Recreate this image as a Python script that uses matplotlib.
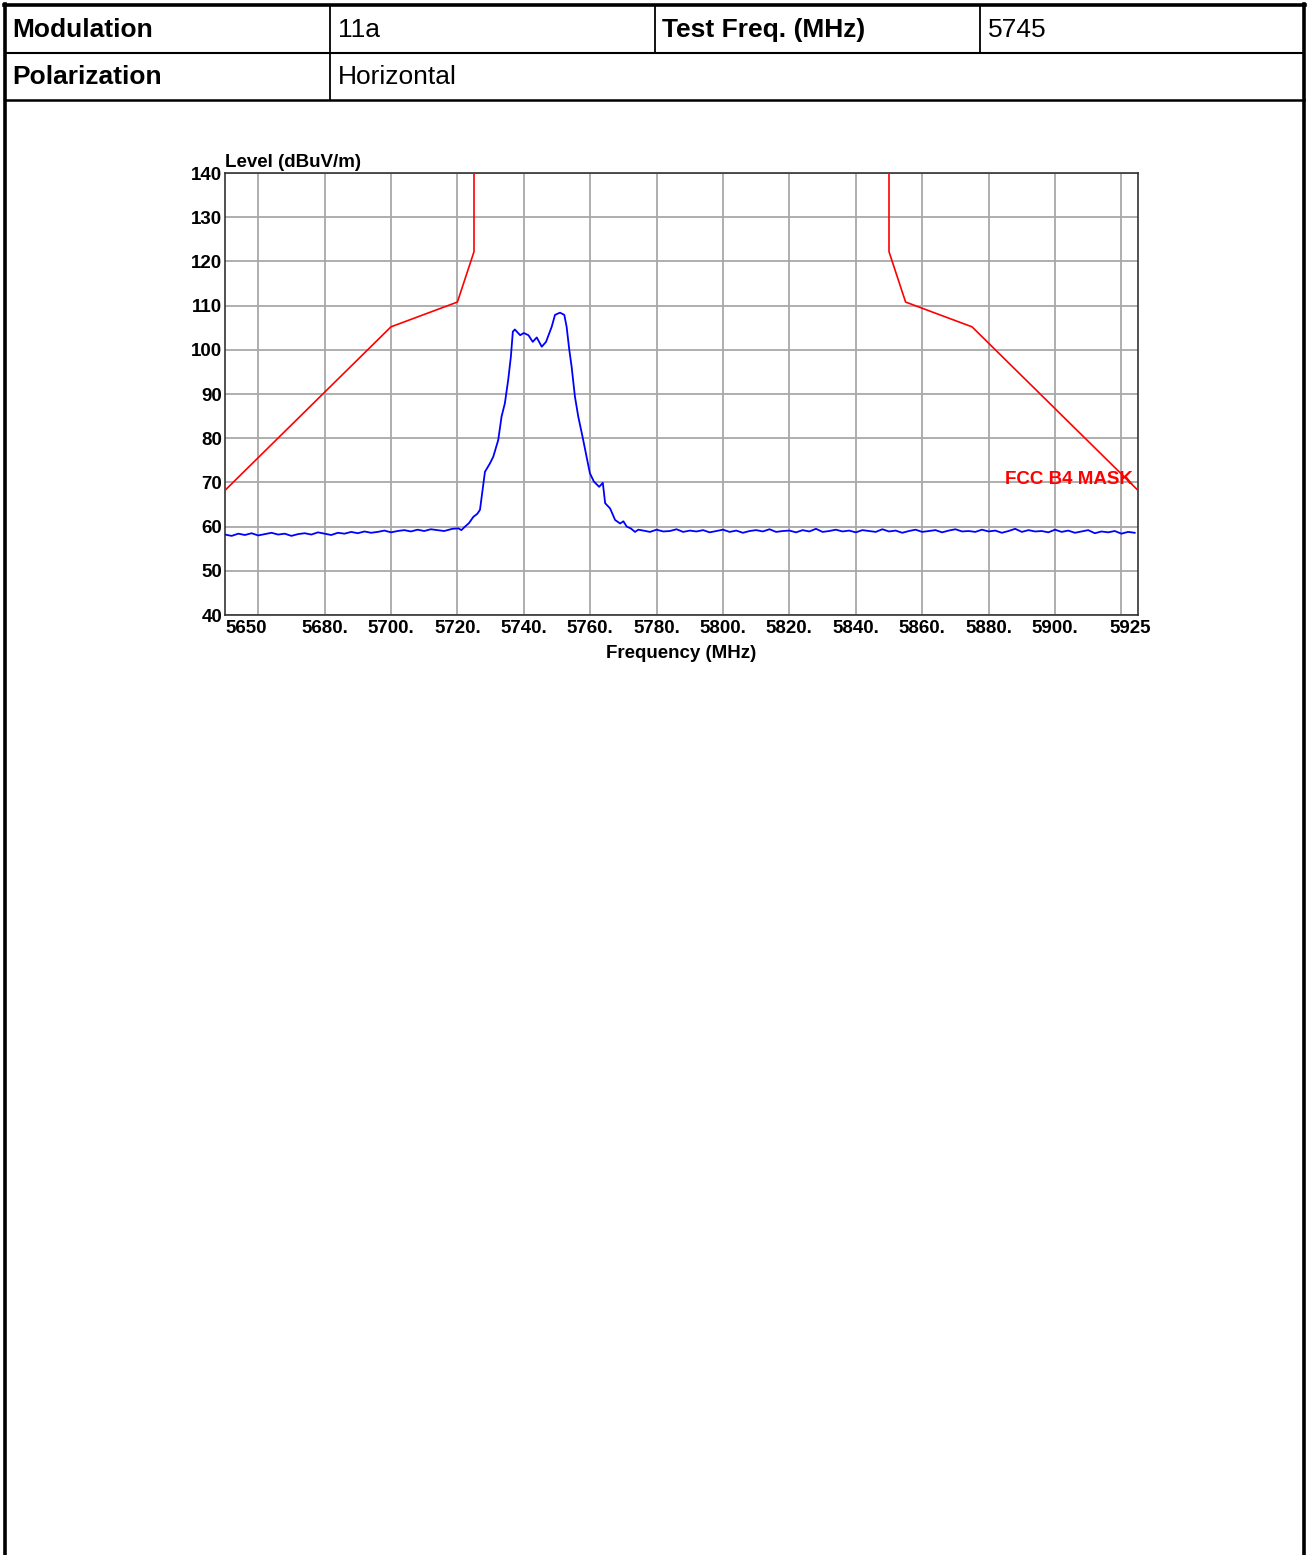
import numpy as np
import matplotlib
matplotlib.use('Agg')
import matplotlib.pyplot as plt

plt.rcParams['font.family'] = ['Liberation Sans', 'DejaVu Sans']

# header table
header_row1 = ['Modulation', '11a', 'Test Freq. (MHz)', '5745']
header_row2 = ['Polarization', 'Horizontal']

# FCC 15.407(b)(4) mask (MHz, dBuV/m)
mask_left_freq = [5650, 5700, 5720, 5725, 5725]
mask_left_level = [68.2, 105.2, 110.8, 122.2, 145.0]
mask_right_freq = [5850, 5850, 5855, 5875, 5925]
mask_right_level = [145.0, 122.2, 110.8, 105.2, 68.2]

# measured trace: noise floor below the channel (2 MHz sweep from 5650)
floor_left_start = 5650
floor_left_level = [58.2, 57.9, 58.4, 58.1, 58.5, 58.0, 58.3, 58.6, 58.2, 58.4,
                    57.9, 58.3, 58.5, 58.2, 58.7, 58.4, 58.1, 58.6, 58.4, 58.8,
                    58.5, 58.9, 58.6, 58.8, 59.1, 58.7, 59.0, 59.2, 58.9, 59.3,
                    59.0, 59.4, 59.2]

# channel occupied region
peak_freq = [5716.0, 5718.5, 5720.3, 5721.2, 5722.3, 5723.5, 5724.8, 5726.0,
             5726.8, 5727.6, 5728.3, 5729.8, 5730.8, 5732.3, 5733.3, 5734.3,
             5735.3, 5736.1, 5736.7, 5737.3, 5738.9, 5740.0, 5741.4, 5742.7,
             5743.9, 5745.4, 5746.7, 5748.4, 5749.4, 5750.9, 5752.2, 5752.9,
             5753.7, 5754.4, 5755.4, 5756.4, 5757.7, 5758.9, 5759.9, 5761.1,
             5762.7, 5763.8, 5764.5, 5766.0, 5767.5, 5769.0, 5770.0, 5771.0,
             5772.2, 5773.5, 5774.5]
peak_level = [59.0, 59.5, 59.6, 59.2, 60.0, 60.8, 62.2, 62.9,
              63.8, 68.3, 72.4, 74.3, 75.8, 79.6, 84.9, 87.9,
              93.2, 98.4, 104.1, 104.6, 103.3, 103.8, 103.3, 101.8,
              102.8, 100.7, 101.8, 105.2, 107.9, 108.4, 107.9, 105.2,
              100.0, 96.2, 89.4, 84.9, 80.3, 75.8, 72.1, 70.2,
              69.0, 69.9, 65.3, 64.1, 61.5, 60.7, 61.2, 60.0,
              59.6, 58.8, 59.3]

# noise floor above the channel (2 MHz sweep from 5776)
floor_right_start = 5776
floor_right_level = [59.1, 58.8, 59.3, 58.9, 59.0, 59.4, 58.8, 59.1, 58.9, 59.2,
                     58.7, 59.0, 59.3, 58.8, 59.1, 58.6, 59.0, 59.2, 58.9, 59.4,
                     58.8, 59.0, 59.1, 58.7, 59.2, 58.9, 59.5, 58.8, 59.0, 59.3,
                     58.9, 59.1, 58.7, 59.2, 59.0, 58.8, 59.4, 58.9, 59.1, 58.6,
                     59.0, 59.3, 58.8, 59.0, 59.2, 58.7, 59.1, 59.4, 58.9, 59.0,
                     58.8, 59.3, 58.9, 59.1, 58.6, 59.0, 59.5, 58.8, 59.2, 58.9,
                     59.0, 58.7, 59.3, 58.8, 59.1, 58.6, 58.9, 59.2, 58.5, 58.9,
                     58.7, 59.0, 58.4, 58.8, 58.6]

x_grid = list(range(5660, 5921, 20))
x_labels = ['5650', '5680.', '5700.', '5720.', '5740.', '5760.', '5780.', '5800.',
            '5820.', '5840.', '5860.', '5880.', '5900.', '5925']
x_label_pos = [5650, 5680, 5700, 5720, 5740, 5760, 5780, 5800,
               5820, 5840, 5860, 5880, 5900, 5929]
y_ticks = list(range(40, 141, 10))

W, H = 1307, 1555
fig = plt.figure(figsize=(W / 100, H / 100), dpi=100)

# page / table frame in pixel coordinates
page = fig.add_axes([0, 0, 1, 1])
page.set_xlim(0, W)
page.set_ylim(H, 0)
page.axis('off')
page.plot([5, 5], [4, H], color='black', lw=2.6)
page.plot([1304, 1304], [4, H], color='black', lw=2.6)
page.plot([4, 1305], [5, 5], color='black', lw=2.6)
page.plot([5, 1304], [53, 53], color='black', lw=1.5)
page.plot([5, 1304], [100, 100], color='black', lw=1.8)
page.plot([330, 330], [5, 100], color='black', lw=1.3)
page.plot([655, 655], [5, 53], color='black', lw=1.3)
page.plot([980, 980], [5, 53], color='black', lw=1.3)

cell_x = [12, 338, 662, 988]
for i, txt in enumerate(header_row1):
    page.text(cell_x[i], 30, txt, fontsize=19, va='center', ha='left',
              fontweight='bold' if i % 2 == 0 else 'normal')
for i, txt in enumerate(header_row2):
    page.text(cell_x[i], 77, txt, fontsize=19, va='center', ha='left',
              fontweight='bold' if i % 2 == 0 else 'normal')

# chart
ax = fig.add_axes([225 / W, 1 - 615 / H, (1138 - 225) / W, (615 - 173) / H])
ax.set_xlim(5650, 5925)
ax.set_ylim(40, 140)

freq = np.concatenate([floor_left_start + 2 * np.arange(len(floor_left_level)),
                       peak_freq,
                       floor_right_start + 2 * np.arange(len(floor_right_level))])
level = np.concatenate([floor_left_level, peak_level, floor_right_level])
ax.plot(freq, level, color='#0000ff', lw=1.3, zorder=3)
ax.plot(mask_left_freq, mask_left_level, color='#ff0000', lw=1.2, zorder=4)
ax.plot(mask_right_freq, mask_right_level, color='#ff0000', lw=1.2, zorder=4)

ax.set_xticks(x_grid)
ax.set_xticklabels([])
ax.set_yticks(y_ticks)
ax.set_yticklabels([str(v) for v in y_ticks], fontsize=13.5, fontweight='bold')
ax.tick_params(length=0, pad=2)
ax.grid(True, color='#a8a8a8', lw=1.3)
ax.set_axisbelow(True)
for s in ax.spines.values():
    s.set_color('#333333')
    s.set_linewidth(1.2)

trans = ax.get_xaxis_transform()
for pos, lab in zip(x_label_pos, x_labels):
    ha = 'left' if pos == 5650 else ('right' if pos > 5925 else 'center')
    ax.text(pos, -0.03, lab, transform=trans, ha=ha, va='center',
            fontsize=13.5, fontweight='bold')

ax.text(0.0, 1.005, 'Level (dBuV/m)', transform=ax.transAxes, ha='left',
        va='bottom', fontsize=13.5, fontweight='bold')
ax.text(0.5, -0.086, 'Frequency (MHz)', transform=ax.transAxes, ha='center',
        va='center', fontsize=13.5, fontweight='bold')
ax.text(5923.5, 70.6, 'FCC B4 MASK', color='#ff0000', ha='right', va='center',
        fontsize=13.5, fontweight='bold', zorder=5)

plt.savefig('out.png', dpi=100)
